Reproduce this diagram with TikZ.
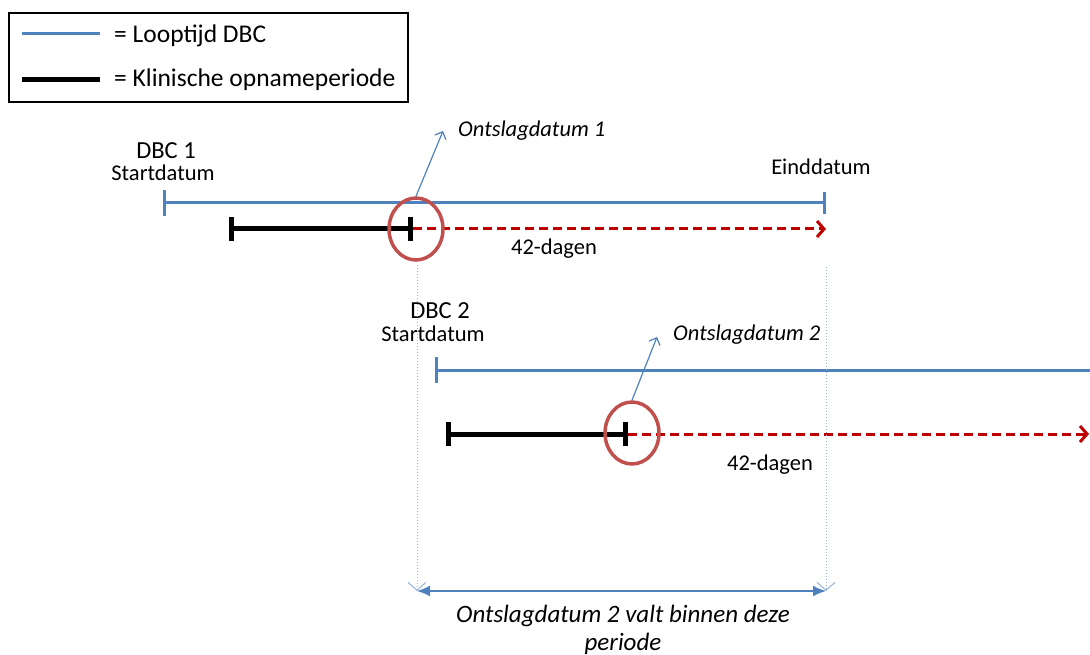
\documentclass[tikz,border=0pt]{standalone}
\usepackage{fontspec}
\setmainfont{Carlito}
\usetikzlibrary{arrows.meta, shapes.geometric}

\definecolor{dbcblue}{HTML}{4F81BD}
\definecolor{dagred}{HTML}{C00000}
\definecolor{ringred}{HTML}{C0504D}
\definecolor{gridblue}{HTML}{95B3D7}

\tikzset{
  looptijd/.style={dbcblue, line width=3pt},
  opname/.style={black, line width=5pt},
  dagen/.style={dagred, line width=3pt, dash pattern=on 9pt off 5pt,
    -{Straight Barb[length=7pt, width=16pt, line width=3pt]}},
  ring/.style={ellipse, draw=ringred, line width=3.5pt, minimum width=54pt, minimum height=62pt, inner sep=0pt},
  callout/.style={dbcblue, line width=1.2pt, -{Straight Barb[length=6pt, width=12pt]}},
  hulplijn/.style={gridblue, line width=1pt, dotted, -{Straight Barb[length=8pt, width=18pt, line width=1pt]}},
  tekst/.style={font=\fontsize{22.5}{26}\selectfont, inner sep=0pt},
  grotetekst/.style={font=\fontsize{24.5}{28}\selectfont, inner sep=0pt},
  legtekst/.style={font=\fontsize{25.5}{30}\selectfont, inner sep=0pt},
  schuin/.style={font=\fontsize{22.5}{28}\selectfont\itshape, inner sep=0pt},
  onderschrift/.style={font=\fontsize{25}{28}\selectfont\itshape, inner sep=0pt}
}

\begin{document}
\begin{tikzpicture}[x=1pt, y=-1pt]
    \useasboundingbox (0,0) rectangle (1090,655);
    % legenda
    \draw[line width=1.5pt] (9,13) rectangle (408,102);
    \draw[looptijd] (22,34) -- (100,34);
    \draw[opname] (22,80) -- (100,80);
    \node[legtekst, anchor=west] (leg1) at (114,36) {= Looptijd DBC};
    \node[legtekst, anchor=west] (leg2) at (114,80) {= Klinische opnameperiode};

    % DBC 1
    \coordinate (start1) at (163,203);
    \coordinate (eind1) at (826,203);
    \coordinate (opn1) at (229,229);
    \coordinate (ontsl1) at (413,229);
    \coordinate (dag1) at (826,229);
    \node[grotetekst, anchor=base] (dbc1) at (166,159) {DBC 1};
    \node[tekst, anchor=base] (sd1) at (163,181) {Startdatum};
    \node[tekst] (ed1) at (821,167) {Einddatum};
    \draw[looptijd, {Bar[width=26pt]}-{Bar[width=22pt]}] (start1) -- (eind1);
    \draw[dagen] (ontsl1) -- (dag1);
    \draw[opname, {Bar[width=24pt]}-{Bar[width=24pt]}] (opn1) -- (ontsl1);
    \node[ring] (ring1) at (416,229) {};
    \node[schuin, anchor=west] (os1) at (458,131) {Ontslagdatum 1};
    \coordinate (tip1) at (443,131);
    \draw[callout] (ring1.north) -- (tip1);
    \node[tekst] (d1) at (554,249) {42-dagen};

    % DBC 2
    \coordinate (start2) at (435,370);
    \coordinate (eind2) at (1090,370);
    \coordinate (opn2) at (446,434);
    \coordinate (ontsl2) at (628,434);
    \coordinate (dag2) at (1089,434);
    \node[grotetekst, anchor=base] (dbc2) at (440,318) {DBC 2};
    \node[tekst, anchor=base] (sd2) at (433,341) {Startdatum};
    \draw[looptijd, {Bar[width=26pt]}-] (start2) -- (eind2);
    \draw[dagen] (ontsl2) -- (dag2);
    \draw[opname, {Bar[width=24pt]}-{Bar[width=24pt]}] (opn2) -- (ontsl2);
    \node[ring] (ring2) at (632,433) {};
    \node[schuin, anchor=west] (os2) at (673,335) {Ontslagdatum 2};
    \coordinate (tip2) at (657,337);
    \draw[callout] (ring2.north) -- (tip2);
    \node[tekst] (d2) at (770,465) {42-dagen};

    % periode
    \coordinate (p1) at (417,265);
    \coordinate (p2) at (826,267);
    \coordinate (q1) at (417,591);
    \coordinate (q2) at (826,591);
    \draw[hulplijn] (p1) -- (q1);
    \draw[hulplijn] (p2) -- (q2);
    \draw[dbcblue, line width=1.8pt, {Latex[length=13pt, width=11pt]}-{Latex[length=13pt, width=11pt]}] (q1) -- (q2);
    \node[onderschrift, align=center] (per) at (623,630) {Ontslagdatum 2 valt binnen deze\\periode};
\end{tikzpicture}
\end{document}
